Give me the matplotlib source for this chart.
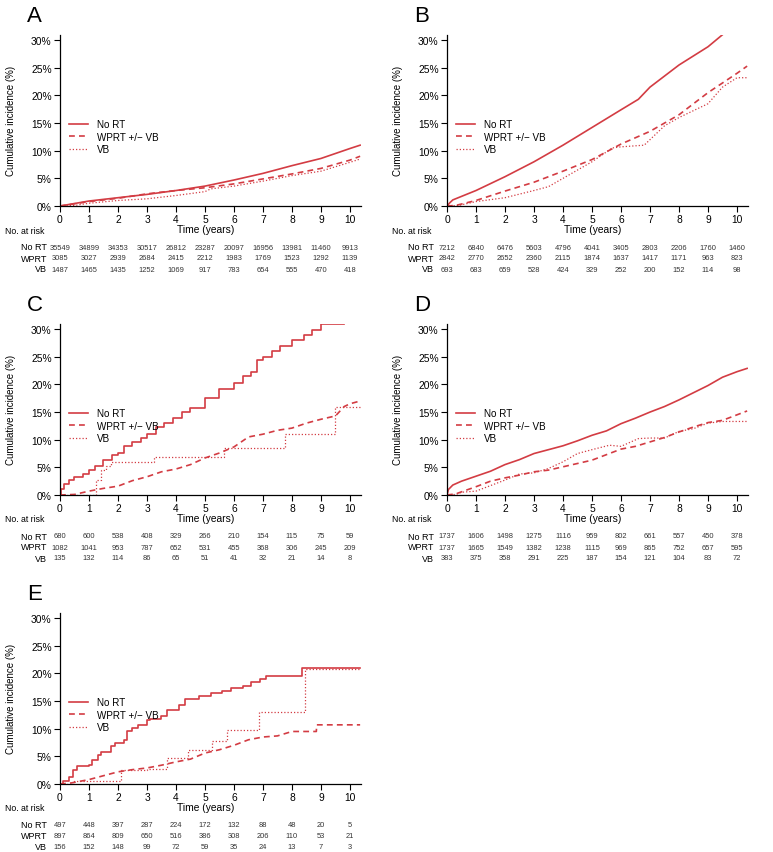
import matplotlib
matplotlib.use('Agg')
import matplotlib.pyplot as plt

plt.rcParams['font.family'] = ['Liberation Sans', 'DejaVu Sans']

RED = '#d33c43'
YEARS = list(range(11))
GROUPS = ['No RT', 'WPRT', 'VB']
LEGEND_LABELS = ['No RT', 'WPRT +/\u2212 VB', 'VB']

# panel A
a_nort_t = [0, 1, 2, 3, 4, 5, 6, 7, 8, 9, 10, 10.35]
a_nort_y = [0, 0.9, 1.5, 2.1, 2.8, 3.6, 4.7, 5.9, 7.3, 8.6, 10.4, 11.0]
a_wprt_t = [0, 1, 2, 3, 4, 5, 6, 7, 8, 9, 10, 10.35]
a_wprt_y = [0, 0.8, 1.4, 2.2, 2.8, 3.3, 4.0, 4.9, 5.8, 6.8, 8.3, 9.0]
a_vb_t = [0, 0.5, 1, 2, 3, 4, 5, 5.2, 6, 7, 8, 9, 10, 10.35]
a_vb_y = [0, 0.1, 0.5, 1.0, 1.3, 1.9, 2.6, 3.1, 3.6, 4.5, 5.5, 6.3, 7.9, 8.5]

# panel B
b_nort_t = [0, 0.1, 0.2, 1, 2, 3, 4, 5, 6, 6.6, 7, 8, 9, 9.55]
b_nort_y = [0, 0.6, 1.1, 2.8, 5.3, 8.0, 11.0, 14.2, 17.4, 19.3, 21.5, 25.5, 28.8, 31.2]
b_wprt_t = [0, 0.3, 1, 2, 3, 4, 5, 6, 7, 8, 9, 10, 10.35]
b_wprt_y = [0, 0.1, 1.0, 2.7, 4.3, 6.3, 8.4, 11.2, 13.5, 16.5, 20.5, 24.0, 25.3]
b_vb_t = [0, 0.4, 1, 2, 3, 3.5, 4, 5, 5.7, 6, 6.8, 7, 7.5, 8, 9, 9.5, 10, 10.35]
b_vb_y = [0, 0.1, 0.8, 1.5, 2.8, 3.5, 5.0, 8.0, 10.5, 10.7, 11.0, 12.0, 14.5, 16.0, 18.5, 21.5, 23.2, 23.2]

# panel C
c_nort_t = [0, 0.05, 0.15, 0.3, 0.5, 0.8, 1.0, 1.2, 1.5, 1.8, 2.0, 2.2, 2.5, 2.8, 3.0, 3.3,
            3.6, 3.9, 4.2, 4.5, 5.0, 5.5, 6.0, 6.3, 6.6, 6.8, 7.0, 7.3, 7.6, 8.0, 8.4, 8.7,
            9.0, 9.8]
c_nort_y = [0, 1.0, 2.0, 2.7, 3.2, 3.8, 4.5, 5.3, 6.3, 7.2, 7.6, 8.8, 9.6, 10.3, 11.0, 12.3,
            13.0, 14.0, 15.0, 15.8, 17.5, 19.2, 20.3, 21.5, 22.2, 24.5, 25.0, 26.0, 27.0, 28.0,
            29.0, 29.8, 31.0, 31.0]
c_wprt_t = [0, 0.5, 1.0, 1.5, 2.0, 2.5, 3.0, 3.5, 4.0, 4.5, 5.0, 5.5, 6.0, 6.5, 7.0, 7.5,
            8.0, 8.5, 9.0, 9.5, 9.8, 10.0, 10.35]
c_wprt_y = [0, 0.1, 0.7, 1.2, 1.6, 2.6, 3.3, 4.2, 4.7, 5.5, 6.7, 7.6, 8.7, 10.5, 11.0, 11.7,
            12.1, 13.0, 13.7, 14.3, 16.0, 16.5, 17.0]
c_vb_t = [0, 1.25, 1.4, 1.6, 1.75, 3.25, 5.65, 7.75, 9.5, 10.35]
c_vb_y = [0, 2.7, 4.5, 5.3, 6.0, 6.9, 8.5, 11.0, 16.0, 16.0]

# panel D
d_nort_t = [0, 0.05, 0.2, 0.5, 1, 1.5, 2, 2.5, 3, 3.5, 4, 4.5, 5, 5.5, 6, 6.5, 7, 7.5, 8,
            8.5, 9, 9.5, 10, 10.35]
d_nort_y = [0, 1.0, 1.8, 2.5, 3.4, 4.3, 5.5, 6.4, 7.5, 8.2, 8.9, 9.8, 10.8, 11.6, 12.9, 13.9,
            15.0, 16.0, 17.2, 18.5, 19.8, 21.3, 22.3, 22.9]
d_wprt_t = [0, 0.3, 1, 1.5, 2, 2.5, 3, 3.5, 4, 4.5, 5, 5.5, 6, 6.5, 7, 7.5, 8, 8.5, 9, 9.5,
            10, 10.35]
d_wprt_y = [0, 0.2, 1.5, 2.5, 3.1, 3.6, 4.2, 4.5, 5.1, 5.7, 6.3, 7.3, 8.3, 8.8, 9.6, 10.4,
            11.4, 12.3, 13.1, 13.5, 14.5, 15.2]
d_vb_t = [0, 0.3, 0.5, 1, 1.4, 2, 2.5, 3, 3.5, 4, 4.5, 5, 5.6, 6, 6.6, 7, 7.5, 8, 8.5, 9,
          9.5, 10.35]
d_vb_y = [0, 0.1, 0.5, 0.7, 1.5, 2.7, 3.8, 4.0, 4.8, 6.0, 7.5, 8.2, 9.0, 8.8, 10.2, 10.3,
          10.3, 11.5, 12.0, 13.0, 13.3, 13.3]

# panel E
e_nort_t = [0, 0.1, 0.3, 0.45, 0.6, 1.0, 1.1, 1.3, 1.4, 1.75, 1.9, 2.2, 2.3, 2.5, 2.7, 3.0,
            3.1, 3.5, 3.7, 4.1, 4.3, 4.8, 5.2, 5.6, 5.9, 6.3, 6.6, 6.9, 7.1, 8.35, 10.35]
e_nort_y = [0, 0.5, 1.2, 2.5, 3.3, 3.5, 4.3, 5.2, 5.7, 6.8, 7.4, 8.0, 9.5, 10.1, 10.7, 11.5,
            11.8, 12.3, 13.4, 14.3, 15.4, 16.0, 16.5, 16.9, 17.4, 17.8, 18.4, 19.0, 19.5,
            21.0, 21.0]
e_wprt_t = [0, 0.4, 1.0, 1.5, 2.0, 2.5, 3.0, 3.5, 4.0, 4.5, 5.0, 5.5, 6.0, 6.5, 7.0, 7.5,
            8.0, 8.84, 8.85, 10.35]
e_wprt_y = [0, 0.2, 0.8, 1.5, 2.2, 2.6, 2.9, 3.4, 4.0, 4.5, 5.6, 6.2, 7.0, 8.0, 8.5, 8.7,
            9.5, 9.5, 10.7, 10.7]
e_vb_t = [0, 0.5, 2.1, 3.0, 3.7, 4.4, 5.25, 5.75, 6.85, 8.45, 10.35]
e_vb_y = [0, 0.6, 2.5, 2.7, 4.7, 6.2, 7.8, 9.8, 13.0, 20.8, 20.8]

# numbers at risk (No RT, WPRT, VB)
risk_a = [[35549, 34899, 34353, 30517, 26812, 23287, 20097, 16956, 13981, 11460, 9913],
          [3085, 3027, 2939, 2684, 2415, 2212, 1983, 1769, 1523, 1292, 1139],
          [1487, 1465, 1435, 1252, 1069, 917, 783, 654, 555, 470, 418]]
risk_b = [[7212, 6840, 6476, 5603, 4796, 4041, 3405, 2803, 2206, 1760, 1460],
          [2842, 2770, 2652, 2360, 2115, 1874, 1637, 1417, 1171, 963, 823],
          [693, 683, 659, 528, 424, 329, 252, 200, 152, 114, 98]]
risk_c = [[680, 600, 538, 408, 329, 266, 210, 154, 115, 75, 59],
          [1082, 1041, 953, 787, 652, 531, 455, 368, 306, 245, 209],
          [135, 132, 114, 86, 65, 51, 41, 32, 21, 14, 8]]
risk_d = [[1737, 1606, 1498, 1275, 1116, 959, 802, 661, 557, 450, 378],
          [1737, 1665, 1549, 1382, 1238, 1115, 969, 865, 752, 657, 595],
          [383, 375, 358, 291, 225, 187, 154, 121, 104, 83, 72]]
risk_e = [[497, 448, 397, 287, 224, 172, 132, 88, 48, 20, 5],
          [897, 864, 809, 650, 516, 386, 308, 206, 110, 53, 21],
          [156, 152, 148, 99, 72, 59, 35, 24, 13, 7, 3]]

PANELS = [
    ('A', [(a_nort_t, a_nort_y), (a_wprt_t, a_wprt_y), (a_vb_t, a_vb_y)], risk_a),
    ('B', [(b_nort_t, b_nort_y), (b_wprt_t, b_wprt_y), (b_vb_t, b_vb_y)], risk_b),
    ('C', [(c_nort_t, c_nort_y), (c_wprt_t, c_wprt_y), (c_vb_t, c_vb_y)], risk_c),
    ('D', [(d_nort_t, d_nort_y), (d_wprt_t, d_wprt_y), (d_vb_t, d_vb_y)], risk_d),
    ('E', [(e_nort_t, e_nort_y), (e_wprt_t, e_wprt_y), (e_vb_t, e_vb_y)], risk_e),
]
# curves with few, large jumps are drawn as steps; dense ones as plain lines
STEPPED = {('C', 0), ('C', 2), ('E', 0), ('E', 2)}
STYLES = [dict(linestyle='-', linewidth=1.2),
          dict(linestyle=(0, (3.5, 2.5)), linewidth=1.2),
          dict(linestyle=(0, (1, 1.6)), linewidth=0.9)]

W, H = 773, 853
fig = plt.figure(figsize=(W / 100, H / 100), dpi=100)

# axes frames in pixels: left edge, y of the 0% line
FRAMES = [(60, 207), (447, 207), (60, 496), (447, 496), (60, 785)]
AX_W, AX_H = 301, 171.4


def draw_panel(ax, letter, curves, risk):
    for i, ((t, y), label, style) in enumerate(zip(curves, LEGEND_LABELS, STYLES)):
        draw = 'steps-post' if (letter, i) in STEPPED else 'default'
        ax.plot(t, y, drawstyle=draw, color=RED, label=label, **style)

    ax.set_xlim(0, 10.38)
    ax.set_ylim(0, 31)
    ax.set_xticks(YEARS)
    ax.set_yticks([0, 5, 10, 15, 20, 25, 30])
    ax.set_yticklabels([f'{v}%' for v in [0, 5, 10, 15, 20, 25, 30]])
    ax.tick_params(labelsize=7.4, length=4, width=0.8, pad=2)
    for side in ('top', 'right'):
        ax.spines[side].set_visible(False)
    for side in ('left', 'bottom'):
        ax.spines[side].set_linewidth(0.9)
    ax.set_ylabel('Cumulative incidence (%)', fontsize=7, labelpad=11)

    ax.legend(loc='center left', bbox_to_anchor=(0.03, 0.405), frameon=False,
              fontsize=7.1, handlelength=1.95, handletextpad=0.9, labelspacing=0.25,
              borderpad=0, borderaxespad=0)

    ax.annotate(letter, xy=(0, 1), xycoords='axes fraction', xytext=(-33, 14),
                textcoords='offset pixels', fontsize=16, ha='left', va='baseline')

    # risk table
    ax.annotate('No. at risk', xy=(0, 0), xycoords='axes fraction', xytext=(-55, -24),
                textcoords='offset pixels', fontsize=6.3, ha='left', va='center')
    ax.annotate('Time (years)', xy=(0.5, 0), xycoords='axes fraction', xytext=(-5, -23),
                textcoords='offset pixels', fontsize=7.4, ha='center', va='center')
    for row, (name, counts) in enumerate(zip(GROUPS, risk)):
        dy = -41 - 11 * row
        ax.annotate(name, xy=(0, 0), xycoords='axes fraction', xytext=(-13, dy),
                    textcoords='offset pixels', fontsize=6.5, ha='right', va='center')
        for year, n in zip(YEARS, counts):
            ax.annotate(f'{n}', xy=(year, 0), xycoords=('data', 'axes fraction'),
                        xytext=(0, dy), textcoords='offset pixels', fontsize=5.4,
                        ha='center', va='center', color='#333333')


for (letter, curves, risk), (left, base) in zip(PANELS, FRAMES):
    ax = fig.add_axes([left / W, 1 - base / H, AX_W / W, AX_H / H])
    draw_panel(ax, letter, curves, risk)

fig.savefig('out.png', dpi=100)
